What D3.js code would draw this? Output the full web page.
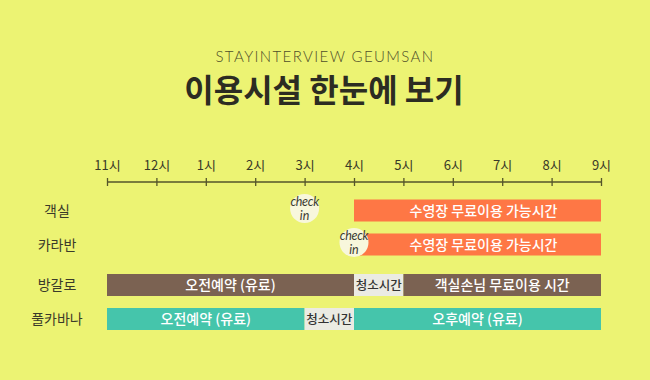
<!DOCTYPE html>
<html><head><meta charset="utf-8">
<script src="https://cdn.jsdelivr.net/npm/d3@7"></script>
<style>
html,body{margin:0;padding:0;background:#ecf373;}
svg{display:block;}
</style></head>
<body>
<svg id="c" width="650" height="380"></svg>
<script>
const subtitle = "STAYINTERVIEW GEUMSAN";
const title = "이용시설 한눈에 보기";
const hours = [11,12,13,14,15,16,17,18,19,20,21];
const hourLabels = ["11시","12시","1시","2시","3시","4시","5시","6시","7시","8시","9시"];
const rows = ["객실","카라반","방갈로","풀카바나"];
const segRow   = ["객실","카라반","방갈로","방갈로","방갈로","풀카바나","풀카바나","풀카바나"];
const segStart = [16,16,11,16,17,11,15,16];
const segEnd   = [21,21,16,17,21,15,16,21];
const segKind  = ["pool","pool","paid","clean","free","pool2","clean","pool2"];
const segLabel = ["수영장 무료이용 가능시간","수영장 무료이용 가능시간","오전예약 (유료)","청소시간","객실손님 무료이용 시간","오전예약 (유료)","청소시간","오후예약 (유료)"];
const checkRow  = ["객실","카라반"];
const checkHour = [15,16];

const svg = d3.select("#c");
const W = 650, H = 380;
svg.append("rect").attr("width",W).attr("height",H).attr("fill","#ecf373");

const x = d3.scaleLinear().domain([11,21]).range([107,601]);
const y = d3.scaleOrdinal().domain(rows).range([210.5,244.5,285,319]);
const color = d3.scaleOrdinal().domain(["pool","paid","clean","free","pool2"])
  .range(["#fe7745","#7b6252","#ebebe3","#7b6252","#45c5ab"]);
const textColor = d3.scaleOrdinal().domain(["pool","paid","clean","free","pool2"])
  .range(["#ffffff","#ffffff","#333333","#ffffff","#ffffff"]);
const barH = 22;
const KR = "'Noto Sans CJK KR','Noto Sans',sans-serif";

svg.append("text").attr("x",325).attr("y",61.5).attr("text-anchor","middle")
  .attr("font-family","Lato, 'Open Sans', sans-serif").attr("font-weight",300)
  .attr("font-size",15).attr("letter-spacing",1.4).attr("fill","#4f4f2a").text(subtitle);
svg.append("text").attr("x",324).attr("y",101.5).attr("text-anchor","middle")
  .attr("font-family",KR).attr("font-weight",700)
  .attr("font-size",32).attr("fill","#2c2c22").text(title);

// axis
const ax = svg.append("g").attr("transform","translate(0,182)");
ax.call(d3.axisTop(x).tickValues(hours).tickFormat((d,i)=>hourLabels[i]).tickSize(4));
ax.select(".domain").remove();
ax.insert("line",":first-child").attr("x1",x(11)).attr("x2",x(21)).attr("y1",0).attr("y2",0)
  .attr("stroke","#55552a").attr("stroke-width",1.5);
ax.selectAll(".tick line").attr("y1",-4).attr("y2",4).attr("stroke","#55552a").attr("stroke-width",1.3);
ax.selectAll(".tick text").attr("y",-12).attr("dy",0).attr("font-family",KR)
  .attr("font-size",13).attr("fill","#3a3a28");

// row labels
svg.append("g").selectAll("text").data(rows).join("text")
  .attr("x",57).attr("y",d=>y(d)+5).attr("text-anchor","middle")
  .attr("font-family",KR).attr("font-size",14).attr("fill","#3a3a2a").text(d=>d);

// segments
const idx = d3.range(segRow.length);
const seg = svg.append("g").selectAll("g").data(idx).join("g");
seg.append("rect")
  .attr("x",i=>x(segStart[i])).attr("width",i=>x(segEnd[i])-x(segStart[i]))
  .attr("y",i=>y(segRow[i])-barH/2).attr("height",barH)
  .attr("fill",i=>color(segKind[i]));
seg.append("text")
  .attr("x",i=>(x(segStart[i])+x(segEnd[i]))/2 + (segKind[i]==="pool"?6:0))
  .attr("y",i=>y(segRow[i])+5).attr("text-anchor","middle")
  .attr("font-family",KR).attr("font-weight",500)
  .attr("font-size",i=>segKind[i]==="clean"?12.5:14)
  .attr("fill",i=>textColor(segKind[i])).text(i=>segLabel[i]);

// check-in markers
const ck = svg.append("g").selectAll("g").data(d3.range(checkRow.length)).join("g")
  .attr("transform",i=>`translate(${x(checkHour[i])},${y(checkRow[i])-2})`);
ck.append("circle").attr("r",14.5).attr("fill","#f8f7dc");
ck.append("text").attr("y",-2.5).attr("text-anchor","middle")
  .attr("font-family","Lato, 'Open Sans', sans-serif").attr("font-style","italic")
  .attr("font-size",12.5).attr("letter-spacing",-0.3).attr("fill","#3d3d33").text("check");
ck.append("text").attr("y",11.5).attr("text-anchor","middle")
  .attr("font-family","Lato, 'Open Sans', sans-serif").attr("font-style","italic")
  .attr("font-size",12.5).attr("fill","#3d3d33").text("in");
</script>
</body></html>
